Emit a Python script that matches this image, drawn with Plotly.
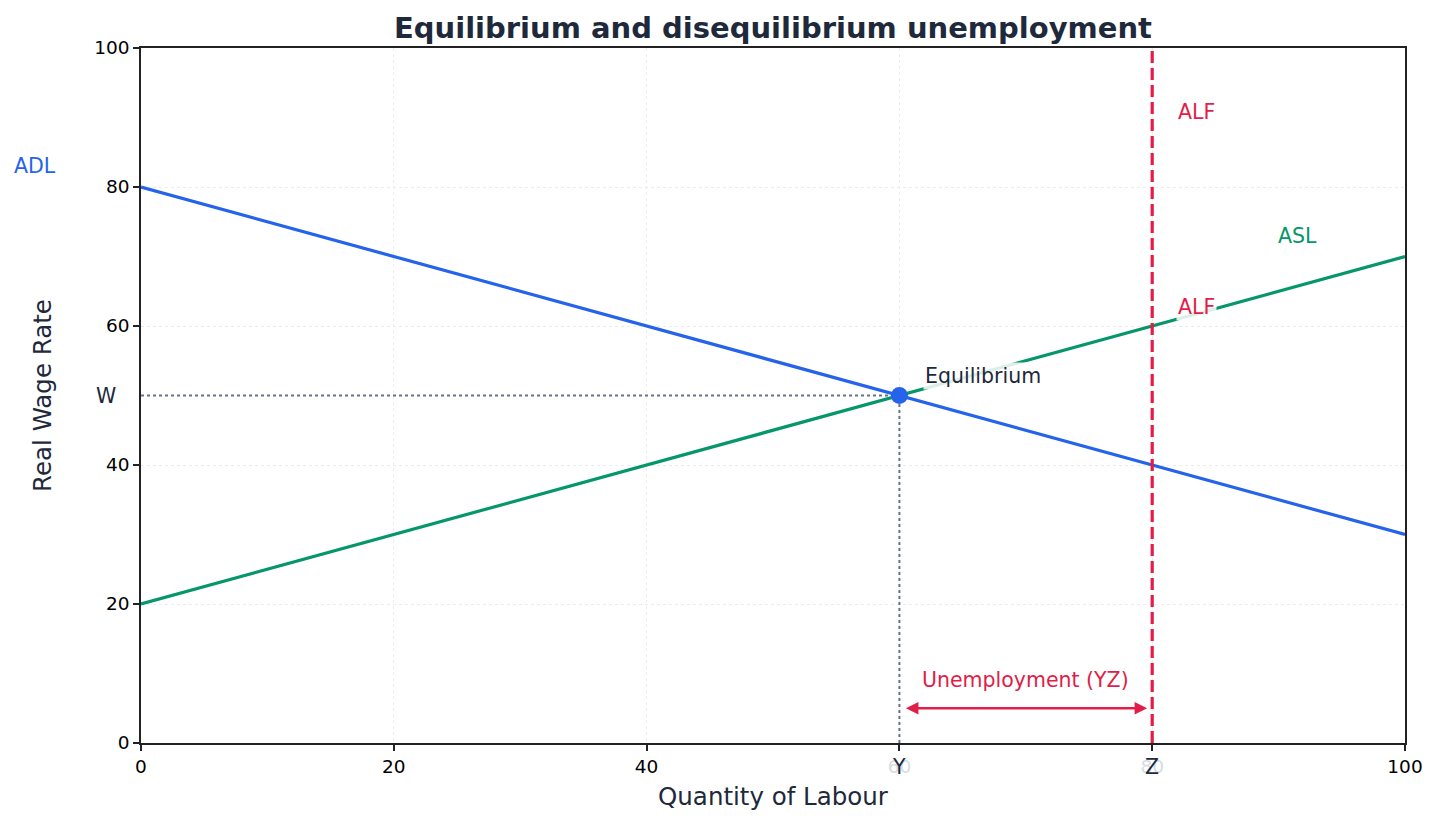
import plotly.graph_objects as go

# Data
x_vals = [0, 100]
adl_vals = [80, 30]
asl_vals = [20, 70]
eq_x = [60]
eq_y = [50]
alf_x = 80
x_ticks = [0, 20, 40, 60, 80, 100]
y_ticks = [0, 20, 40, 60, 80, 100]

BLUE = "#2563eb"
GREEN = "#059669"
RED = "#e11d48"
GRAY = "#64748b"
DARK = "#1e293b"
FONT = "DejaVu Sans"
LBL = 20.5

fig = go.Figure()

# Reference dotted lines
fig.add_trace(go.Scatter(x=[0, eq_x[0]], y=[eq_y[0], eq_y[0]], mode="lines",
                         line=dict(color=GRAY, width=2, dash="dot"), showlegend=False, hoverinfo="skip"))
fig.add_trace(go.Scatter(x=[eq_x[0], eq_x[0]], y=[0, eq_y[0]], mode="lines",
                         line=dict(color=GRAY, width=2, dash="dot"), showlegend=False, hoverinfo="skip"))

fig.add_trace(go.Scatter(x=x_vals, y=asl_vals, mode="lines", line=dict(color=GREEN, width=3.2), name="ASL", showlegend=False))
fig.add_trace(go.Scatter(x=x_vals, y=adl_vals, mode="lines", line=dict(color=BLUE, width=3.2), name="ADL", showlegend=False))

# ALF vertical line
fig.add_trace(go.Scatter(x=[alf_x, alf_x], y=[0, 100], mode="lines",
                         line=dict(color=RED, width=3.2, dash="12px,5px"), name="ALF", showlegend=False))

fig.add_trace(go.Scatter(x=eq_x, y=eq_y, mode="markers",
                         marker=dict(color=BLUE, size=17), showlegend=False))

ann = []
ann.append(dict(x=-0.084, y=83, xref="paper", yref="y", text="ADL", showarrow=False,
                font=dict(color=BLUE, size=LBL, family=FONT), xanchor="center", yanchor="middle"))
ann.append(dict(x=91.5, y=73, xref="x", yref="y", text="ASL", showarrow=False,
                font=dict(color=GREEN, size=LBL, family=FONT), xanchor="center", yanchor="middle"))
ann.append(dict(x=83.5, y=90.8, xref="x", yref="y", text="ALF", showarrow=False,
                font=dict(color=RED, size=LBL, family=FONT), xanchor="center", yanchor="middle"))
ann.append(dict(x=83.5, y=62.7, xref="x", yref="y", text="ALF", showarrow=False,
                font=dict(color=RED, size=LBL, family=FONT), xanchor="center", yanchor="middle",
                bgcolor="rgba(255,255,255,0.85)", borderpad=1))
ann.append(dict(x=66.6, y=52.8, xref="x", yref="y", text="Equilibrium", showarrow=False,
                font=dict(color=DARK, size=LBL, family=FONT), xanchor="center", yanchor="middle",
                bgcolor="rgba(255,255,255,0.85)", borderpad=1))
ann.append(dict(x=-0.028, y=50, xref="paper", yref="y", text="W", showarrow=False,
                font=dict(color=DARK, size=LBL, family=FONT), xanchor="center", yanchor="middle"))
ann.append(dict(x=70, y=9, xref="x", yref="y", text="Unemployment (YZ)", showarrow=False,
                font=dict(color=RED, size=LBL, family=FONT), xanchor="center", yanchor="middle"))
ann.append(dict(x=79.6, y=5, ax=60.4, ay=5, xref="x", yref="y", axref="x", ayref="y",
                text="", showarrow=True, arrowside="end+start", arrowhead=2, arrowsize=1,
                arrowwidth=2.5, arrowcolor=RED))
ann.append(dict(x=60, y=-0.035, xref="x", yref="paper", text="Y", showarrow=False,
                font=dict(color=DARK, size=LBL, family=FONT), xanchor="center", yanchor="middle"))
ann.append(dict(x=80, y=-0.035, xref="x", yref="paper", text="Z", showarrow=False,
                font=dict(color=DARK, size=LBL, family=FONT), xanchor="center", yanchor="middle"))

faded = "#d4dce4"
x_ticktext = ["0", "20", "40", f'<span style="color:{faded}">60</span>',
              f'<span style="color:{faded}">80</span>', "100"]

fig.update_layout(
    width=1439, height=825,
    margin=dict(l=141, r=34, t=48, b=82),
    plot_bgcolor="white", paper_bgcolor="white",
    font=dict(family=FONT, color="black"),
    title=dict(text="<b>Equilibrium and disequilibrium unemployment</b>", x=(141 + 1405) / 2 / 1439,
               xanchor="center", y=1 - 28 / 825, yanchor="middle",
               font=dict(size=29, color=DARK, family=FONT)),
    annotations=ann,
    showlegend=False,
)
fig.update_xaxes(range=[0, 100], tickvals=x_ticks, ticktext=x_ticktext,
                 showline=True, linecolor="#222222", linewidth=1.5, mirror=True,
                 ticks="outside", ticklen=6, tickcolor="#222222", tickwidth=1.5,
                 tickfont=dict(size=18.5, color="black", family=FONT),
                 showgrid=True, gridcolor="#ececec", griddash="dot", gridwidth=1, zeroline=False,
                 title=dict(text="Quantity of Labour", font=dict(size=24.5, color=DARK, family=FONT), standoff=12))
fig.update_yaxes(range=[0, 100], tickvals=y_ticks,
                 showline=True, linecolor="#222222", linewidth=1.5, mirror=True,
                 ticks="outside", ticklen=6, tickcolor="#222222", tickwidth=1.5,
                 tickfont=dict(size=18.5, color="black", family=FONT),
                 showgrid=True, gridcolor="#ececec", griddash="dot", gridwidth=1, zeroline=False,
                 title=dict(text="Real Wage Rate", font=dict(size=24.5, color=DARK, family=FONT), standoff=36))

fig.write_html("out.html", config={"displayModeBar": False},
               post_script="document.body.style.margin='0';")
